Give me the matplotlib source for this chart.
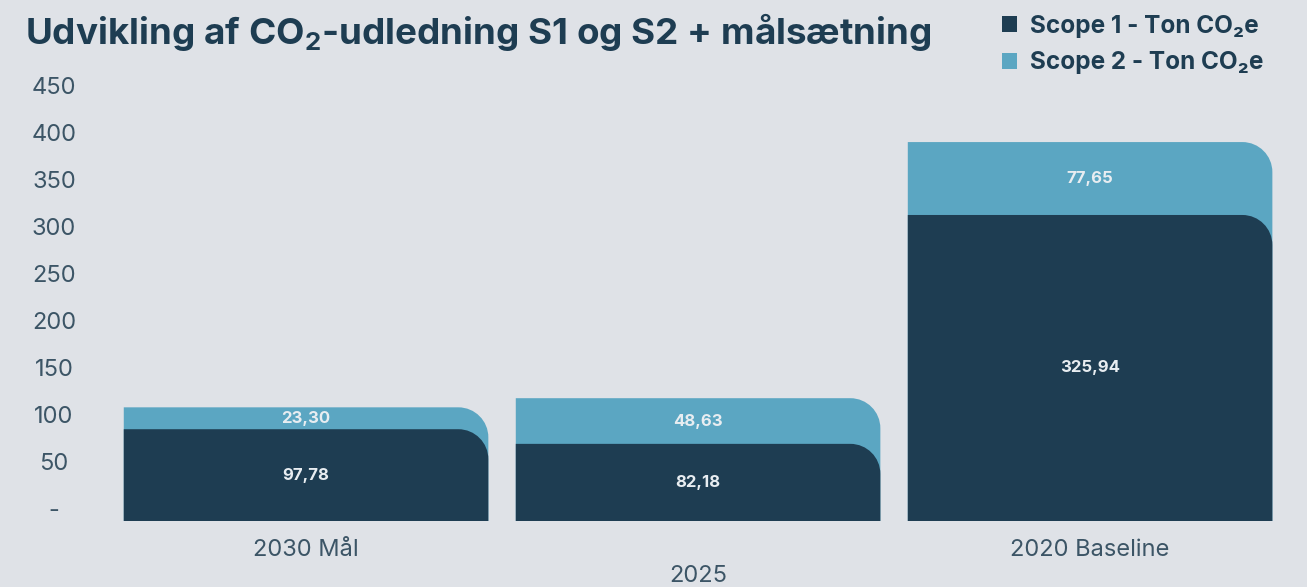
import matplotlib
matplotlib.use("Agg")
from matplotlib import pyplot as plt
from matplotlib.path import Path
from matplotlib.patches import PathPatch, Patch
from matplotlib.transforms import blended_transform_factory, offset_copy

# data
categories = ["2030 Mål", "2025", "2020 Baseline"]
scope1 = [97.78, 82.18, 325.94]
scope2 = [23.30, 48.63, 77.65]
yticks = [0, 50, 100, 150, 200, 250, 300, 350, 400, 450]
ytick_labels = ["-", "50", "100", "150", "200", "250", "300", "350", "400", "450"]

BG = "#dfe2e7"
DARK = "#1e3d52"
LIGHT = "#5ba6c2"
TXT = "#3c5566"

plt.rcParams["font.family"] = ["Inter", "DejaVu Sans"]
plt.rcParams["mathtext.fontset"] = "custom"
plt.rcParams["mathtext.rm"] = "Inter"
plt.rcParams["mathtext.bf"] = "Inter:bold"

fig = plt.figure(figsize=(13.07, 5.87), dpi=100, facecolor=BG)
ax = fig.add_axes([0.0842, 0.1124, 0.8998, 0.7646])
ax.set_facecolor(BG)
ax.set_xlim(-0.5, 2.5)
ax.set_ylim(0, 478)
for s in ax.spines.values():
    s.set_visible(False)
ax.set_xticks([])
ax.set_yticks([])


def round_top_right(rect, color, rx_px=30, ry_px=30):
    # replace a bar rectangle by a path with only the top-right corner rounded
    x0, y0 = rect.get_x(), rect.get_y()
    x1, y1 = x0 + rect.get_width(), y0 + rect.get_height()
    inv = ax.transData.inverted()
    p0 = inv.transform((0, 0))
    p1 = inv.transform((rx_px, ry_px))
    rx, ry = p1[0] - p0[0], p1[1] - p0[1]
    k = 0.5523
    verts = [(x0, y0), (x1, y0), (x1, y1 - ry),
             (x1, y1 - ry + k * ry), (x1 - rx + k * rx, y1), (x1 - rx, y1),
             (x0, y1), (x0, y0)]
    codes = [Path.MOVETO, Path.LINETO, Path.LINETO,
             Path.CURVE4, Path.CURVE4, Path.CURVE4,
             Path.LINETO, Path.CLOSEPOLY]
    rect.remove()
    ax.add_patch(PathPatch(Path(verts, codes), facecolor=color, edgecolor="none"))


x = list(range(len(categories)))
totals = [a + b for a, b in zip(scope1, scope2)]
bars2 = ax.bar(x, totals, width=0.93)
bars1 = ax.bar(x, scope1, width=0.93)
for r in bars2:
    round_top_right(r, LIGHT)
for r in bars1:
    round_top_right(r, DARK)

fmt = lambda v: f"{v:.2f}".replace(".", ",")
for i in x:
    ax.text(i, scope1[i] / 2, fmt(scope1[i]), ha="center", va="center",
            color="#e8edf1", fontsize=12, fontweight="bold")
    ax.text(i, scope1[i] + scope2[i] / 2, fmt(scope2[i]), ha="center", va="center",
            color="#e8edf1", fontsize=12, fontweight="bold")

# y labels, sitting a little above their gridline
ytr = offset_copy(blended_transform_factory(ax.transAxes, ax.transData),
                  fig=fig, x=0, y=10, units="dots")
for v, lbl in zip(yticks, ytick_labels):
    ax.text(-0.0476, v, lbl, transform=ytr, ha="center", va="center",
            fontsize=17, color=TXT)

# staggered category labels
xtr = blended_transform_factory(ax.transData, ax.transAxes)
for i, c in enumerate(categories):
    yoff = -29 if i % 2 == 0 else -55
    t = offset_copy(xtr, fig=fig, x=0, y=yoff, units="dots")
    ax.text(i, 0, c, transform=t, ha="center", va="center",
            fontsize=17, color=TXT)

fig.text(0.019, 0.945, r"Udvikling af CO$_\mathbf{2}$-udledning S1 og S2 + målsætning",
         fontsize=26.5, fontweight="bold", color=DARK, va="center", ha="left")

handles = [Patch(facecolor=DARK, label="Scope 1 - Ton CO₂e"),
           Patch(facecolor=LIGHT, label="Scope 2 - Ton CO₂e")]
leg = fig.legend(handles=handles, loc="upper right", bbox_to_anchor=(0.983, 1.012),
                 frameon=False, handlelength=0.65, handleheight=0.65, handletextpad=0.5,
                 labelspacing=0.55, prop={"weight": "bold", "size": 17.5})
for t in leg.get_texts():
    t.set_color(DARK)

fig.savefig("out.png", dpi=100, facecolor=BG)
